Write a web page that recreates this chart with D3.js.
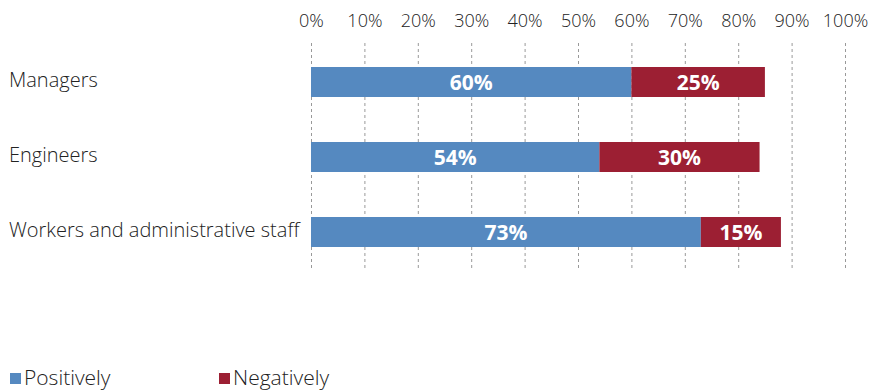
<!DOCTYPE html>
<html><head><meta charset="utf-8">
<script src="https://cdn.jsdelivr.net/npm/d3@7"></script>
<style>body{margin:0;background:#fff}svg{display:block;font-family:"Open Sans",sans-serif}</style>
</head><body><svg id="c" width="887" height="391"></svg>
<script>
const categories = ["Managers", "Engineers", "Workers and administrative staff"];
const positively = [60, 54, 73];
const negatively = [25, 30, 15];
const ticks = [0,10,20,30,40,50,60,70,80,90,100];
const seriesNames = ["Positively", "Negatively"];
const colors = ["#5589c0", "#9c1f33"];

const svg = d3.select("#c");
const x = d3.scaleLinear().domain([0,100]).range([311,845]);
const y = d3.scaleBand().domain(categories).range([44.5,269.5]).paddingInner(0.6).paddingOuter(0.3);

// gridlines
svg.append("g").selectAll("line").data(ticks).join("line")
  .attr("x1", d=>x(d)+0.5).attr("x2", d=>x(d)+0.5)
  .attr("y1", 43).attr("y2", 271)
  .attr("stroke", "#999").attr("stroke-dasharray", "3,3").attr("stroke-width", 1);

// top tick labels
const ax = d3.axisTop(x).tickValues(ticks).tickFormat(d=>d+"%").tickSize(0).tickPadding(0);
const g = svg.append("g").attr("transform","translate(0,27)").call(ax);
g.select(".domain").remove();
g.selectAll("text").attr("font-size", 18).attr("fill", "#222").attr("font-weight", 300).attr("font-family", "'Open Sans', sans-serif");

const data = categories.map((c,i)=>({c, vals:[positively[i], negatively[i]]}));
const rows = svg.append("g").selectAll("g").data(data).join("g");
rows.each(function(d){
  let acc = 0;
  const gr = d3.select(this);
  d.vals.forEach((v,j)=>{
    gr.append("rect").attr("x", x(acc)).attr("width", x(acc+v)-x(acc))
      .attr("y", y(d.c)).attr("height", y.bandwidth()).attr("fill", colors[j]);
    gr.append("text").attr("x", (x(acc)+x(acc+v))/2).attr("y", y(d.c)+y.bandwidth()/2)
      .attr("dy","0.36em").attr("text-anchor","middle").attr("fill","#fff")
      .attr("font-size", 21).attr("font-weight", 700).text(v+"%");
    acc += v;
  });
  gr.append("text").attr("x", 9).attr("y", y(d.c)+y.bandwidth()/2-2).attr("dy","0.36em")
    .attr("font-size", 20).attr("font-weight", 300).attr("fill","#222").text(d.c);
});

// legend
const lg = svg.append("g").selectAll("g").data(seriesNames).join("g")
  .attr("transform", (d,i)=>`translate(${i===0?10:219},0)`);
lg.append("rect").attr("x",0).attr("y",373).attr("width",11).attr("height",11).attr("fill",(d,i)=>colors[i]);
lg.append("text").attr("x",14).attr("y",385).attr("font-size",21).attr("font-weight",300).attr("fill","#222").text(d=>d);
</script></body></html>
